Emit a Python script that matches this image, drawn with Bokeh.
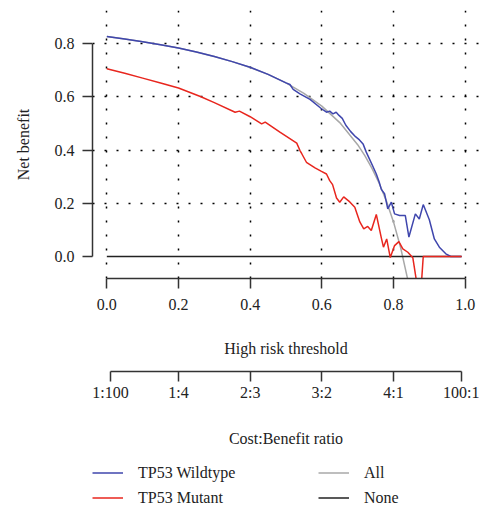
from bokeh.plotting import figure
from bokeh.layouts import column
from bokeh.models import (LinearAxis, FixedTicker, Range1d, Legend, LegendItem, Grid,
                          PrintfTickFormatter)
from bokeh.embed import file_html
from bokeh.resources import INLINE

# ---------------- data ----------------
x_ticks = [0.0, 0.2, 0.4, 0.6, 0.8, 1.0]
y_ticks = [0.0, 0.2, 0.4, 0.6, 0.8]
y_grid = [0.2, 0.4, 0.6, 0.8]
ratio_ticks = [0.01, 0.2, 0.4, 0.6, 0.8, 0.99]
ratio_labels = ["1:100", "1:4", "2:3", "3:2", "4:1", "100:1"]

wt_x = [0.0, 0.05, 0.10, 0.15, 0.20, 0.25, 0.30, 0.35, 0.40, 0.45, 0.50, 0.511, 0.52,
        0.539, 0.567, 0.599, 0.613, 0.622, 0.631, 0.640, 0.648, 0.657, 0.667, 0.680,
        0.694, 0.705, 0.715, 0.724, 0.733, 0.742, 0.752, 0.760, 0.766, 0.775, 0.784,
        0.794, 0.803, 0.817, 0.833, 0.843, 0.861, 0.872, 0.883, 0.900, 0.914, 0.928,
        0.946, 0.960, 0.99]
wt_y = [0.826, 0.817, 0.807, 0.795, 0.783, 0.768, 0.751, 0.732, 0.711, 0.684, 0.652, 0.646, 0.628,
        0.611, 0.590, 0.555, 0.542, 0.546, 0.536, 0.542, 0.530, 0.519, 0.493, 0.470,
        0.450, 0.438, 0.423, 0.392, 0.366, 0.340, 0.310, 0.280, 0.252, 0.236, 0.179,
        0.204, 0.160, 0.154, 0.154, 0.073, 0.160, 0.141, 0.195, 0.138, 0.066, 0.035,
        0.010, 0.000, 0.000]

mt_x = [0.0, 0.05, 0.10, 0.15, 0.20, 0.261, 0.30, 0.358, 0.370, 0.400, 0.432, 0.442, 0.483,
        0.530, 0.539, 0.544, 0.557, 0.581, 0.599, 0.613, 0.622, 0.630, 0.641, 0.650,
        0.661, 0.678, 0.692, 0.706, 0.717, 0.728, 0.738, 0.752, 0.766, 0.772, 0.781,
        0.791, 0.803, 0.815, 0.826, 0.840, 0.854, 0.865, 0.878, 0.883, 0.99]
mt_y = [0.705, 0.688, 0.670, 0.652, 0.633, 0.601, 0.578, 0.542, 0.546, 0.525, 0.498, 0.505, 0.467,
        0.426, 0.398, 0.386, 0.354, 0.333, 0.320, 0.310, 0.285, 0.270, 0.220, 0.204,
        0.224, 0.205, 0.185, 0.130, 0.104, 0.113, 0.098, 0.158, 0.070, 0.035, 0.066,
        -0.004, 0.041, 0.056, 0.029, 0.016, -0.005, -0.10, -0.10, 0.0, 0.0]

all_x = [0.0, 0.05, 0.10, 0.15, 0.20, 0.25, 0.30, 0.35, 0.40, 0.45, 0.50, 0.55, 0.60,
         0.65, 0.70, 0.72, 0.74, 0.76, 0.78, 0.80, 0.82, 0.84, 0.86]
all_y = [0.826, 0.817, 0.807, 0.795, 0.783, 0.768, 0.751, 0.732, 0.710, 0.684, 0.652, 0.613, 0.565,
         0.503, 0.420, 0.379, 0.331, 0.275, 0.209, 0.130, 0.033, -0.088, -0.243]

none_x = [0.0, 0.99]
none_y = [0.0, 0.0]

series_names = ["TP53 Wildtype", "TP53 Mutant", "All", "None"]
series_colors = ["#3f46ad", "#e8261e", "#a8a8a8", "#222222"]
series_x = [wt_x, mt_x, all_x, none_x]
series_y = [wt_y, mt_y, all_y, none_y]

# ---------------- styling ----------------
FONT = "Liberation Serif"
FS = "16px"
TXT = "#222222"
AX = "#333333"

p = figure(frame_width=387, frame_height=268,
           x_range=Range1d(-0.04, 1.04), y_range=Range1d(-0.0826, 0.924),
           x_axis_location=None, y_axis_location=None,
           output_backend="svg", toolbar_location=None,
           min_border_left=92, min_border_right=0, min_border_top=10, min_border_bottom=180)
p.outline_line_color = None
p.background_fill_color = "white"
for g in list(p.grid):
    g.visible = False

vgrid = Grid(dimension=0, ticker=FixedTicker(ticks=x_ticks),
             grid_line_color="black", grid_line_dash="2 12", grid_line_width=1.5)
hgrid = Grid(dimension=1, ticker=FixedTicker(ticks=y_grid),
             grid_line_color="black", grid_line_dash="2 10", grid_line_width=1.5)
p.add_layout(vgrid)
p.add_layout(hgrid)


def style_axis(ax):
    ax.axis_line_color = AX
    ax.axis_line_width = 1.5
    ax.major_tick_line_color = AX
    ax.major_tick_line_width = 1.5
    ax.major_tick_in = 0
    ax.minor_tick_line_color = None
    ax.major_label_text_font = FONT
    ax.major_label_text_font_size = FS
    ax.major_label_text_color = TXT
    ax.axis_label_text_font = FONT
    ax.axis_label_text_font_size = FS
    ax.axis_label_text_font_style = "normal"
    ax.axis_label_text_color = TXT


yaxis = LinearAxis(ticker=FixedTicker(ticks=y_ticks), bounds=(0, 0.8), axis_label="Net benefit",
                   formatter=PrintfTickFormatter(format="%.1f"))
style_axis(yaxis)
yaxis.major_tick_out = 10
yaxis.major_label_standoff = 8
yaxis.axis_label_standoff = 20
p.add_layout(yaxis, "left")

xaxis = LinearAxis(ticker=FixedTicker(ticks=x_ticks), bounds=(0, 1), axis_label="High risk threshold",
                   formatter=PrintfTickFormatter(format="%.1f"))
style_axis(xaxis)
xaxis.major_tick_out = 10
xaxis.major_label_standoff = 10
xaxis.axis_label_standoff = 27
p.add_layout(xaxis, "below")

# empty spacer axis (no line, ticks or labels) to open the gap between the two scales
spacer = LinearAxis(ticker=FixedTicker(ticks=[]), axis_label=" ")
spacer.axis_line_color = None
spacer.major_tick_out = 0
spacer.major_tick_in = 0
spacer.minor_tick_line_color = None
spacer.major_label_standoff = 0
spacer.axis_label_standoff = 0
spacer.axis_label_text_font_size = "8px"
p.add_layout(spacer, "below")

raxis = LinearAxis(ticker=FixedTicker(ticks=ratio_ticks), bounds=(0.01, 0.99),
                   axis_label="Cost:Benefit ratio")
style_axis(raxis)
raxis.major_tick_out = 10
raxis.major_label_standoff = 2
raxis.axis_label_standoff = 26
raxis.major_label_overrides = {t: l for t, l in zip(ratio_ticks, ratio_labels)}
p.add_layout(raxis, "below")

# draw order: All, None, Wildtype, Mutant
for i in [2, 3, 0, 1]:
    p.line(series_x[i], series_y[i], line_color=series_colors[i], line_width=1.5)

# ---------------- legend strip below the chart ----------------
# same series drawn into a strip whose ranges keep the lines out of view; only the legend shows
leg_fig = figure(width=479, height=52, x_range=Range1d(5, 6), y_range=Range1d(5, 6),
                 x_axis_location=None, y_axis_location=None,
                 output_backend="svg", toolbar_location=None,
                 min_border_left=0, min_border_right=0, min_border_top=0, min_border_bottom=0)
leg_fig.outline_line_color = None
for g in list(leg_fig.grid):
    g.visible = False
items = []
for i, name in enumerate(series_names):
    r = leg_fig.line(series_x[i], series_y[i], line_color=series_colors[i], line_width=1.5)
    items.append(LegendItem(label=name, renderers=[r]))

legend = Legend(items=items, orientation="vertical", nrows=2,
                label_text_font=FONT, label_text_font_size=FS, label_text_color=TXT,
                glyph_width=31, glyph_height=25, label_standoff=15, label_width=180,
                label_height=25, spacing=0, padding=0, margin=0,
                border_line_color=None, background_fill_alpha=0,
                location=(0, 0))
leg_fig.add_layout(legend)

layout = column(p, leg_fig, spacing=0)
open("out.html", "w").write(file_html(layout, INLINE))
